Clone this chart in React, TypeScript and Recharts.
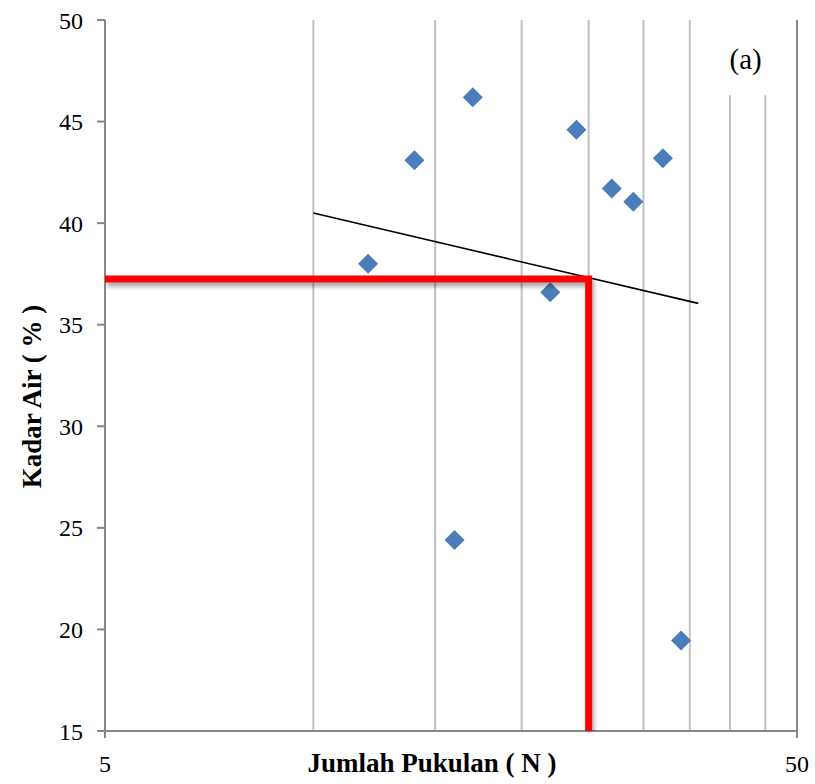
import React from 'react';
import {
  ComposedChart,
  Scatter,
  XAxis,
  YAxis,
  ReferenceLine,
  ReferenceArea,
} from 'recharts';

const blowCounts = [12, 14, 16, 17, 22, 24, 27, 29, 32, 34];
const moisture = [38.0, 43.1, 24.4, 46.2, 36.6, 44.6, 41.7, 41.05, 43.2, 19.45];

const trendX = [10, 36];
const trendY = [40.5, 36.05];

const guideX = [5, 25, 25];
const guideY = [37.25, 37.25, 15];

const xTicks = [5, 50];
const yTicks = [15, 20, 25, 30, 35, 40, 45, 50];
const minorGrid = [10, 15, 20, 25, 30, 35];
const cutGrid = [40, 45];

const points = blowCounts.map((n, i) => ({ n, w: moisture[i] }));
const trend = trendX.map((n, i) => ({ n, w: trendY[i] }));
const guide = guideX.map((n, i) => ({ n, w: guideY[i] }));

const FONT = '"Liberation Serif", "Times New Roman", serif';

const Diamond = (props: any) => {
  const { cx, cy } = props;
  if (cx == null || cy == null) return <g />;
  const r = 10;
  return (
    <polygon
      points={`${cx},${cy - r} ${cx + r},${cy} ${cx},${cy + r} ${cx - r},${cy}`}
      fill="#4a7ebb"
    />
  );
};

const NoShape = () => <g />;

export default function App() {
  return (
    <div
      style={{
        position: 'absolute',
        left: 0,
        top: 0,
        width: 815,
        height: 784,
        overflow: 'hidden',
        background: '#fff',
      }}
    >
      <ComposedChart
        width={815}
        height={784}
        margin={{ top: 20, right: 18, left: 15, bottom: 13 }}
        style={{ fontFamily: FONT, display: 'block' }}
      >
        <defs>
          <filter id="redShadow" x="-20%" y="-20%" width="140%" height="140%">
            <feDropShadow dx="2" dy="4" stdDeviation="2" floodColor="#000" floodOpacity="0.35" />
          </filter>
        </defs>
        <XAxis
          dataKey="n"
          type="number"
          scale="log"
          domain={[5, 50]}
          ticks={xTicks}
          allowDataOverflow
          height={40}
          stroke="#878787"
          strokeWidth={2}
          tickSize={7}
          tickMargin={17}
          tick={{ fill: '#000', fontSize: 24, fontFamily: FONT }}
          label={{
            content: ({ viewBox }: any) => (
              <text
                x={viewBox.x + viewBox.width / 2 - 19}
                y={viewBox.y + 41}
                textAnchor="middle"
                fontFamily={FONT}
                fontWeight="bold"
                fontSize={27}
                fill="#000"
              >
                Jumlah Pukulan ( N )
              </text>
            ),
          }}
        />
        <YAxis
          dataKey="w"
          type="number"
          domain={[15, 50]}
          ticks={yTicks}
          allowDataOverflow
          width={90}
          stroke="#878787"
          strokeWidth={2}
          tickSize={8}
          tickMargin={14}
          tick={{ fill: '#000', fontSize: 24, fontFamily: FONT }}
          label={{
            content: ({ viewBox }: any) => {
              const x = 41;
              const y = viewBox.y + viewBox.height / 2 + 21;
              return (
                <text
                  x={x}
                  y={y}
                  transform={`rotate(-90 ${x} ${y})`}
                  textAnchor="middle"
                  fontFamily={FONT}
                  fontWeight="bold"
                  fontSize={27}
                  fill="#000"
                >
                  Kadar Air ( % )
                </text>
              );
            },
          }}
        />
        {minorGrid.map((v) => (
          <ReferenceLine key={v} x={v} stroke="#c0c0c0" strokeWidth={2} />
        ))}
        {cutGrid.map((v) => (
          <ReferenceLine
            key={v}
            segment={[
              { x: v, y: 15 },
              { x: v, y: 46.3 },
            ]}
            stroke="#c0c0c0"
            strokeWidth={2}
          />
        ))}
        <ReferenceLine x={50} stroke="#878787" strokeWidth={2} />
        <ReferenceArea
          x1={37}
          x2={48}
          y1={46.3}
          y2={49.9}
          fill="#fff"
          fillOpacity={0}
          stroke="none"
          label={{ value: '(a)', position: 'center', fontSize: 29, fill: '#000', fontFamily: FONT }}
        />
        <Scatter
          data={trend}
          line={{ stroke: '#000', strokeWidth: 1.6 }}
          shape={NoShape}
          isAnimationActive={false}
        />
        <Scatter
          data={points}
          shape={Diamond}
          fill="#4a7ebb"
          isAnimationActive={false}
        />
        <Scatter
          data={guide}
          line={{ stroke: '#ff0000', strokeWidth: 7, filter: 'url(#redShadow)', strokeLinejoin: 'miter' } as any}
          shape={NoShape}
          isAnimationActive={false}
        />
      </ComposedChart>
    </div>
  );
}
